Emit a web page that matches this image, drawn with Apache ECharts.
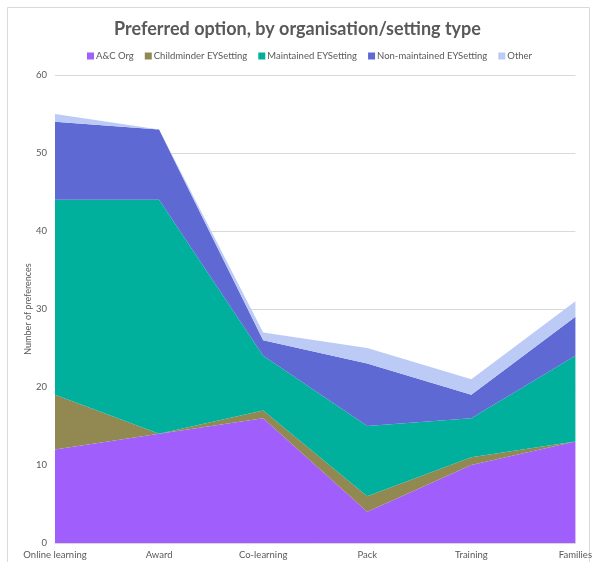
<!DOCTYPE html>
<html>
<head>
<meta charset="utf-8">
<script src="https://cdn.jsdelivr.net/npm/echarts@6/dist/echarts.min.js"></script>
<style>
  html, body { margin: 0; padding: 0; background: #fff; }
  #main { width: 595px; height: 562px; }
</style>
</head>
<body>
<div id="main"></div>
<script>
// categories along the x axis
const categories = ["Online learning", "Award", "Co-learning", "Pack", "Training", "Families"];

// stacked values per group
const acOrg = [12, 14, 16, 4, 10, 13];
const childminder = [7, 0, 1, 2, 1, 0];
const maintained = [25, 30, 7, 9, 5, 11];
const nonMaintained = [10, 9, 2, 8, 3, 5];
const other = [1, 0, 1, 2, 2, 2];

const seriesNames = ["A&C Org", "Childminder EYSetting", "Maintained EYSetting", "Non-maintained EYSetting", "Other"];
const seriesData = [acOrg, childminder, maintained, nonMaintained, other];
const colors = ["#a05ffc", "#918852", "#00b09c", "#5e69d4", "#bccbf6"];

const font = "Lato, 'Open Sans', sans-serif";

let myChart = echarts.init(document.getElementById("main"));

let series = seriesNames.map((name, i) => ({
  name: name,
  type: "line",
  stack: "total",
  symbol: "none",
  lineStyle: { width: 0 },
  areaStyle: { color: colors[i], opacity: 1 },
  itemStyle: { color: colors[i] },
  data: seriesData[i]
}));

let option = {
  backgroundColor: "#fff",
  animation: false,
  graphic: [{
    type: "rect",
    shape: { x: 7.5, y: 7.5, width: 582, height: 600 },
    style: { fill: "none", stroke: "#d9d9d9", lineWidth: 1 },
    silent: true
  }],
  title: {
    text: "Preferred option, by organisation/setting type",
    left: "center",
    top: 15,
    textStyle: { color: "#595959", fontSize: 18, fontWeight: "bold", fontFamily: font }
  },
  legend: {
    top: 46,
    left: 82,
    itemWidth: 7,
    itemHeight: 7,
    itemGap: 11,
    icon: "rect",
    textStyle: { color: "#595959", fontSize: 9.5, fontFamily: font, padding: [0, 0, 0, -3] },
    data: seriesNames
  },
  grid: { left: 55, right: 19, top: 75, bottom: 19, containLabel: false },
  xAxis: {
    type: "category",
    boundaryGap: false,
    data: categories,
    axisLine: { lineStyle: { color: "#d9d9d9" } },
    axisTick: { show: false },
    axisLabel: { color: "#595959", fontSize: 9.5, fontFamily: font, margin: 7 }
  },
  yAxis: {
    type: "value",
    min: 0,
    max: 60,
    interval: 10,
    name: "Number of preferences",
    nameLocation: "middle",
    nameGap: 22,
    nameMoveOverlap: false,
    nameTextStyle: { color: "#595959", fontSize: 9, fontFamily: font },
    axisLine: { show: false },
    axisTick: { show: false },
    axisLabel: { color: "#595959", fontSize: 9.5, fontFamily: font, margin: 8 },
    splitLine: { lineStyle: { color: "#d9d9d9" } }
  },
  series: series
};

myChart.setOption(option);
</script>
</body>
</html>
